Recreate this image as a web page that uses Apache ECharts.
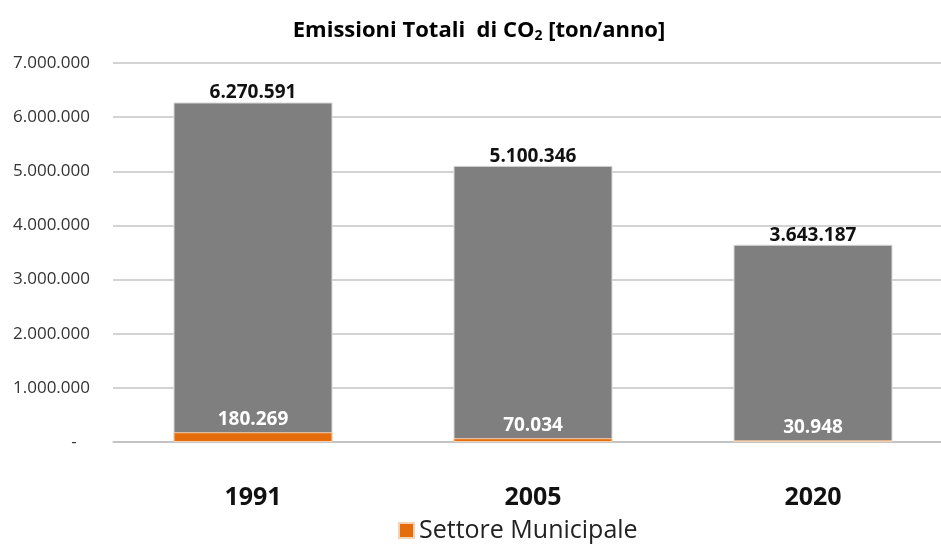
<!DOCTYPE html>
<html>
<head>
<meta charset="utf-8">
<script src="https://cdn.jsdelivr.net/npm/echarts@6/dist/echarts.min.js"></script>
<style>
  html, body { margin: 0; padding: 0; background: #fff; }
  #chart { width: 941px; height: 545px; }
</style>
</head>
<body>
<div id="chart"></div>
<script>
const years = ['1991', '2005', '2020']
const totali = [6270591, 5100346, 3643187]
const municipale = [180269, 70034, 30948]
const yTicks = [0, 1000000, 2000000, 3000000, 4000000, 5000000, 6000000, 7000000]

const FONT = '"Open Sans", Lato, sans-serif'

function fmt(v) {
  return String(Math.round(v)).replace(/\B(?=(\d{3})+(?!\d))/g, '.')
}

const chart = echarts.init(document.getElementById('chart'))
chart.setOption({
  backgroundColor: '#fff',
  animation: false,
  title: {
    text: '{t|Emissioni Totali  di CO}{s|2}{t| [ton/anno]}',
    left: 474,
    textAlign: 'center',
    top: 14,
    textStyle: {
      rich: {
        t: { fontFamily: FONT, fontSize: 22, fontWeight: 'bold', color: '#000' },
        s: { fontFamily: FONT, fontSize: 14, fontWeight: 'bold', color: '#000', verticalAlign: 'bottom', padding: [10, 0, 0, 0] }
      }
    }
  },
  legend: {
    data: ['Settore Municipale'],
    left: 393,
    bottom: -3,
    icon: 'rect',
    itemWidth: 15,
    itemHeight: 15,
    itemGap: 6,
    textStyle: { fontFamily: FONT, fontSize: 25, color: '#222' }
  },
  grid: { left: 113, top: 63, right: -12, bottom: 103, containLabel: false, outerBoundsMode: 'none' },
  xAxis: {
    type: 'category',
    data: years,
    axisLine: { lineStyle: { color: '#bfbfbf', width: 1.5 } },
    axisTick: { show: false },
    axisLabel: { fontFamily: FONT, fontSize: 25, fontWeight: 'bold', color: '#111', margin: 43 }
  },
  yAxis: {
    type: 'value',
    min: yTicks[0],
    max: yTicks[yTicks.length - 1],
    interval: 1000000,
    axisLine: { show: false },
    axisTick: { show: false },
    splitLine: { lineStyle: { color: '#c4c4c4', width: 1.5 } },
    axisLabel: {
      fontFamily: FONT, fontSize: 17, color: '#333', margin: 23,
      // zero shown as an accounting-style dash, padded like Excel does
      formatter: v => (v === 0 ? '-   ' : fmt(v))
    }
  },
  series: [
    {
      name: 'Totale',
      type: 'bar',
      data: totali,
      barWidth: 159,
      barGap: '-100%',
      itemStyle: { color: '#7f7f7f', borderColor: '#d9d9d9', borderWidth: 1 },
      label: {
        show: true, position: 'top', distance: 0,
        fontFamily: FONT, fontSize: 19, fontWeight: 'bold', color: '#111',
        formatter: p => fmt(p.value)
      }
    },
    {
      name: 'Settore Municipale',
      type: 'bar',
      data: municipale,
      barWidth: 159,
      itemStyle: { color: '#e46c0a', borderColor: '#f6d2b4', borderWidth: 1 },
      label: {
        show: true, position: 'top', distance: 3,
        fontFamily: FONT, fontSize: 19, fontWeight: 'bold', color: '#fff',
        formatter: p => fmt(p.value)
      }
    }
  ]
})
</script>
</body>
</html>
